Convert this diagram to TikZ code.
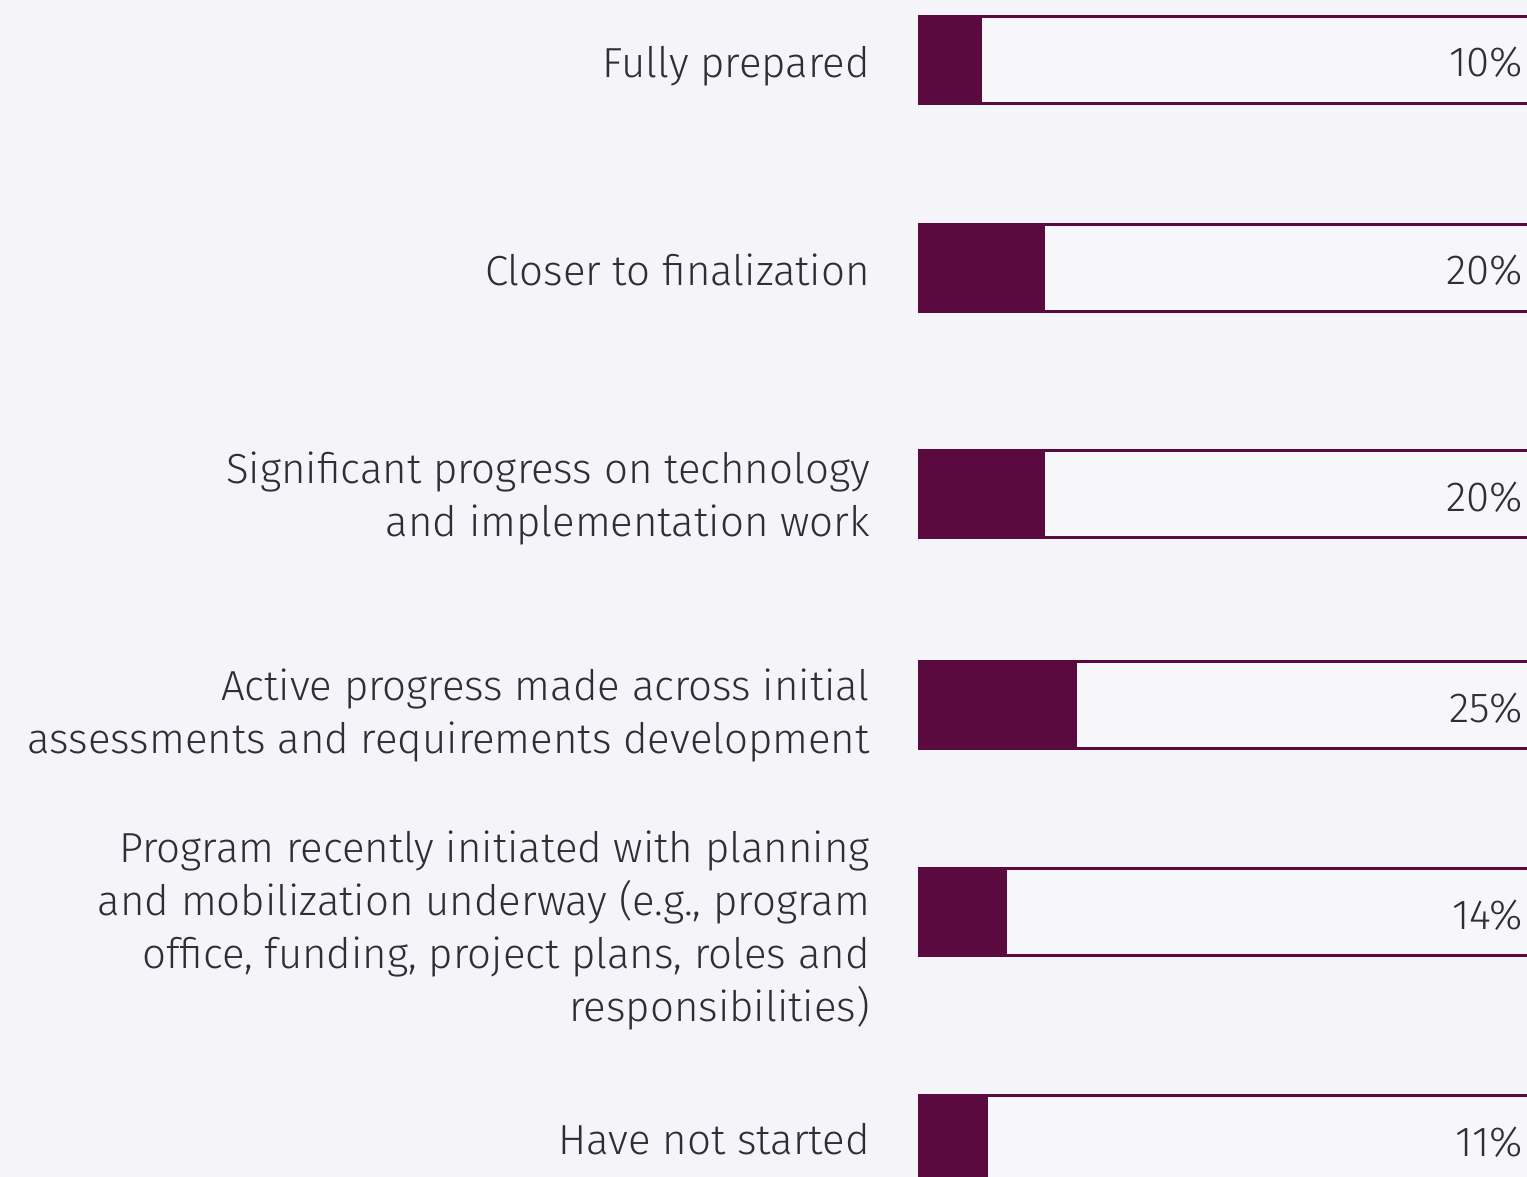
\documentclass[tikz,border=0pt]{standalone}
\usepackage{fontspec}
\setmainfont{Fira Sans Light}
\usepackage{xcolor}
\usepackage{tikz}
\definecolor{barplum}{HTML}{5B0A3F}
\definecolor{pagebg}{HTML}{F4F4F9}
\definecolor{barinner}{HTML}{F7F7FA}
\definecolor{textgray}{HTML}{2E2E38}

\begin{document}
\begin{tikzpicture}[x=1pt,y=-1pt,every node/.style={text=textgray,inner sep=0pt,font=\fontsize{42}{53}\selectfont},
    itemtext/.style={anchor=base east,align=right},
    pcttext/.style={anchor=base east},
    barframe/.style={draw=barplum,line width=3pt,fill=barinner}]
  \fill[pagebg] (0,0) rectangle (1527,1177);
  \clip (0,0) rectangle (1527,1177);
  % bars
  \foreach \ytop/\barpct/\nm in {15/10/full,223/20/close,449/20/tech,660/25/active,867/14/init,1094/11/none}{
    \draw[barframe] (919.5,\ytop+1.5) rectangle (1540,\ytop+88.5);
    \fill[barplum] (918,\ytop) rectangle ++(6.36*\barpct,90);
    \node[pcttext] (\nm-pct) at (1523,\ytop+62) {\barpct\%};
  }
  % labels (base east = baseline of the last line)
  \node[itemtext] (full) at (870,78) {Fully prepared};
  \node[itemtext] (close) at (870,286) {Closer to finalization};
  \node[itemtext] (tech) at (870,536) {Significant progress on technology\\and implementation work};
  \node[itemtext] (active) at (870,753) {Active progress made across initial\\assessments and requirements development};
  \node[itemtext] (init) at (870,1021) {Program recently initiated with planning\\and mobilization underway (e.g., program\\office, funding, project plans, roles and\\responsibilities)};
  \node[itemtext] (none) at (870,1154) {Have not started};
\end{tikzpicture}
\end{document}
